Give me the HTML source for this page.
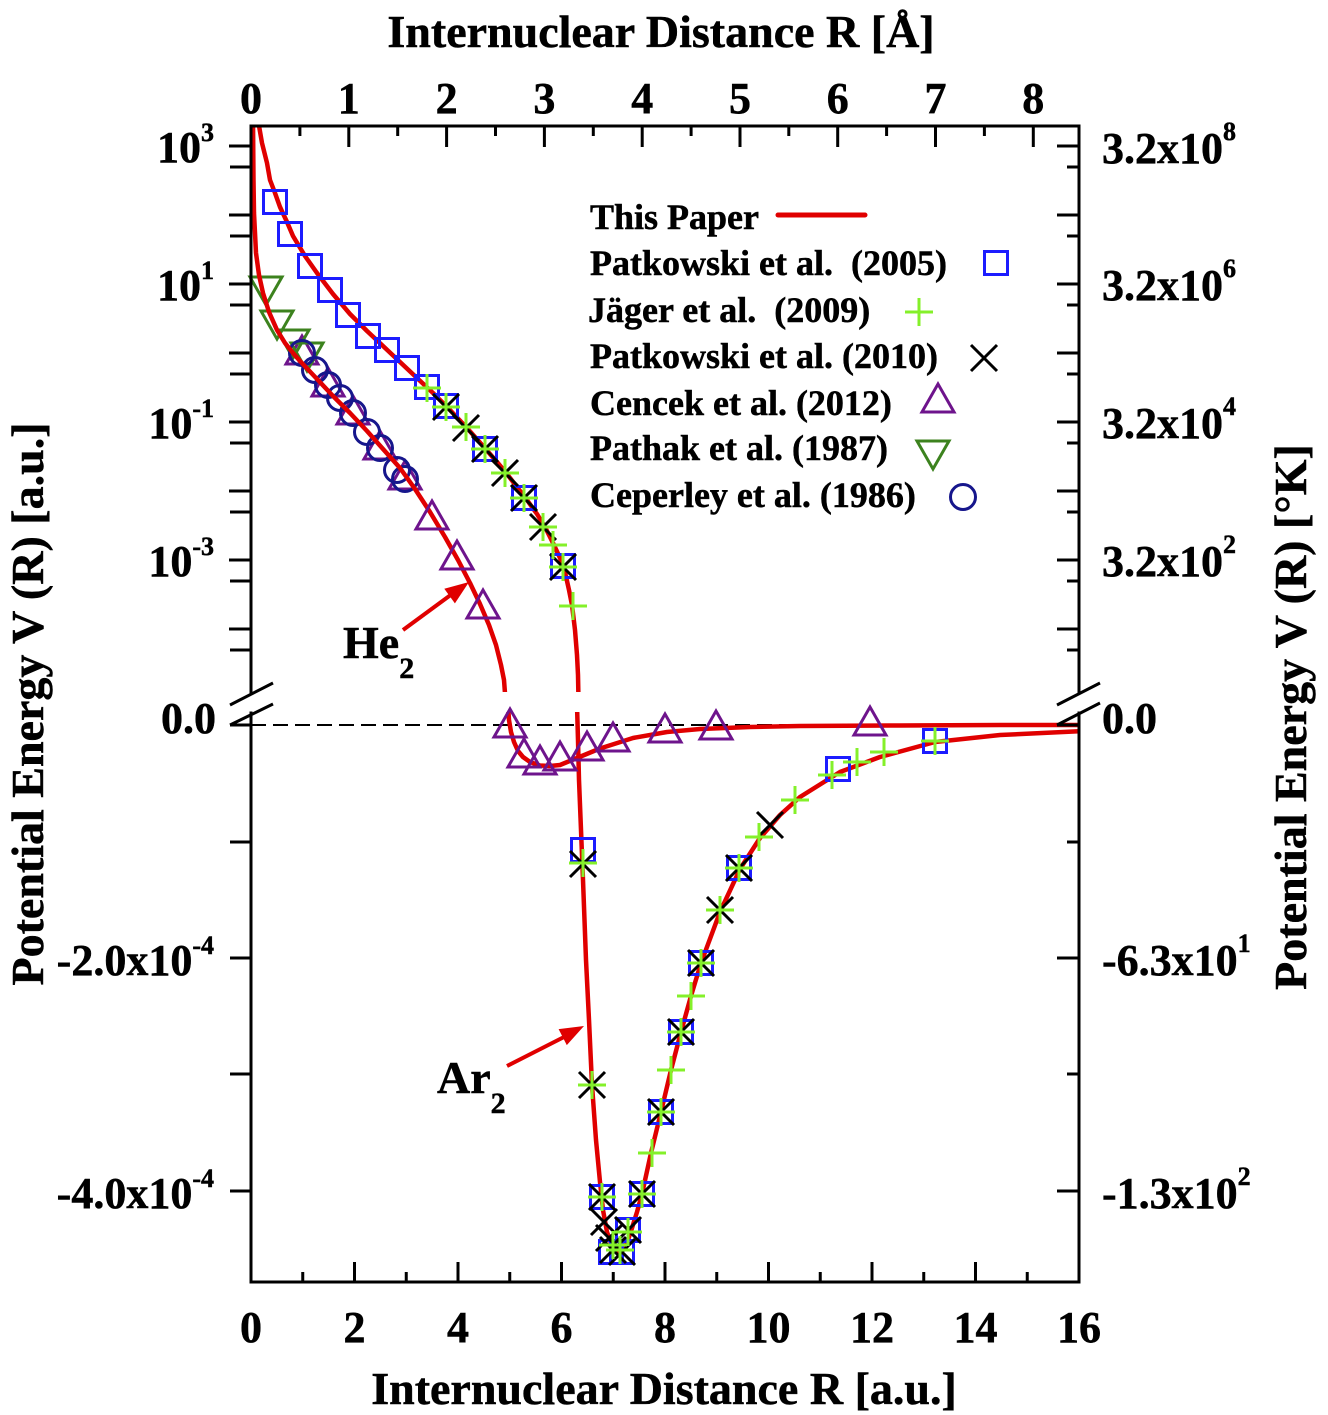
<!DOCTYPE html>
<html><head><meta charset="utf-8"><style>
html,body{margin:0;padding:0;background:#fff;}
svg{display:block;}
text{font-family:"Liberation Serif","DejaVu Serif",serif;font-weight:bold;fill:#000;stroke:#000;stroke-width:0.5;}
</style></head><body>
<svg width="1328" height="1415" viewBox="0 0 1328 1415" xmlns="http://www.w3.org/2000/svg">
<defs>
  <clipPath id="cu"><rect x="251" y="126" width="828" height="566"/></clipPath>
  <clipPath id="cl"><rect x="251" y="712" width="828" height="570"/></clipPath>
  <g id="sq"><rect x="-11.5" y="-11.5" width="23" height="23" fill="none" stroke="#1c1cff" stroke-width="3"/></g>
  <g id="pl"><path d="M-14,0H14M0,-14V14" stroke="#84f02a" stroke-width="3" fill="none"/></g>
  <g id="xx"><path d="M-13,-13L13,13M-13,13L13,-13" stroke="#000" stroke-width="3" fill="none"/></g>
  <g id="tu"><polygon points="0,-17 16,11 -16,11" fill="none" stroke="#6e148c" stroke-width="3"/></g>
  <g id="td"><polygon points="-16,-11 16,-11 0,17" fill="none" stroke="#3c821e" stroke-width="3"/></g>
  <g id="ci"><circle cx="0" cy="0" r="12.5" fill="none" stroke="#16168c" stroke-width="3"/></g>
</defs>
<rect width="1328" height="1415" fill="#fff"/>

<!-- dashed zero line -->
<line x1="251" y1="725" x2="1079" y2="725" stroke="#000" stroke-width="2" stroke-dasharray="15 7"/>

<!-- He2 upper markers (under curve) -->
<use href="#tu" x="302" y="353"/><use href="#tu" x="328" y="385"/><use href="#tu" x="353" y="413"/><use href="#tu" x="380" y="448"/><use href="#tu" x="405" y="478"/>
<use href="#td" x="266" y="288"/><use href="#td" x="277" y="322"/><use href="#td" x="293" y="341"/><use href="#td" x="307" y="354"/>
<use href="#ci" x="302" y="353"/><use href="#ci" x="315" y="370"/><use href="#ci" x="328" y="385"/><use href="#ci" x="340" y="398"/><use href="#ci" x="353" y="413"/><use href="#ci" x="367" y="432"/><use href="#ci" x="380" y="448"/><use href="#ci" x="397" y="470"/><use href="#ci" x="405" y="479"/>

<!-- curves -->
<g fill="none" stroke="#e00000" stroke-width="4.5" stroke-linejoin="round" stroke-linecap="round">
  <g clip-path="url(#cu)">
    <polyline points="253,120 253.5,180 254,213 256,253 259,275 263,293 269,312 277,330 285,343 293,353 300,361 317,379 333,396 350,413 367,431 383,449 400,468 415,489 430,512 445,537 458,560 470,583 480,604 489,625 496,645 501,665 504,680 505.5,700"/>
    <polyline points="258,120 262,143 267,163 270,180 275,193 280,207 287,222 293,236 305,256 317,273 333,294 350,314 367,331 383,346 400,362 417,378 433,393 450,410 467,428 483,446 497,462 507,474 517,487 527,500 537,514 545,527 553,543 560,558 565,572 569,590 572,605 575,630 577,655 578,675 578.5,700"/>
  </g>
  <g clip-path="url(#cl)">
    <polyline points="508,705 509,720 511,732 514,742 518,751 523,757 530,762 540,765.5 550,766 560,765 577,758 600,748.5 633,738 667,732 700,729 750,727 800,726 900,725.5 1000,725 1085,725"/>
    <polyline points="577,705 578,740 579,780 581,830 583,880 586,960 589,1020 592,1085 596,1140 600,1182 603,1210 607,1232 612,1246 617,1252 622,1251 627,1243 632,1228 637,1212 642,1194 651,1153 661,1112 671,1070 681,1032 691,996 701,963 720,912 740,869 760,838 780,815 800,797 840,772 880,757 935,742 1000,735 1085,731"/>
  </g>
</g>

<!-- He2 upper triangles (visible) -->
<use href="#tu" x="432" y="518"/><use href="#tu" x="457" y="558"/><use href="#tu" x="483" y="607"/>

<!-- He2 lower markers -->
<use href="#tu" x="510" y="726"/><use href="#tu" x="524" y="756"/><use href="#tu" x="540" y="763"/><use href="#tu" x="560" y="759"/><use href="#tu" x="587" y="749"/><use href="#tu" x="613" y="740"/><use href="#tu" x="665" y="731"/><use href="#tu" x="716" y="728"/><use href="#tu" x="870" y="724"/>

<!-- Ar2 squares -->
<use href="#sq" x="275" y="202"/><use href="#sq" x="290" y="234"/><use href="#sq" x="310" y="266"/><use href="#sq" x="330" y="290"/><use href="#sq" x="348" y="315"/><use href="#sq" x="368" y="336"/><use href="#sq" x="387" y="350"/><use href="#sq" x="407" y="368"/><use href="#sq" x="427" y="387"/><use href="#sq" x="446" y="406"/><use href="#sq" x="485" y="449"/><use href="#sq" x="524" y="498"/><use href="#sq" x="563" y="566"/>
<use href="#sq" x="583" y="850"/><use href="#sq" x="602" y="1197"/><use href="#sq" x="611" y="1252"/><use href="#sq" x="622" y="1252"/><use href="#sq" x="628" y="1230"/><use href="#sq" x="642" y="1194"/><use href="#sq" x="661" y="1112"/><use href="#sq" x="681" y="1032"/><use href="#sq" x="701" y="963"/><use href="#sq" x="739" y="868"/><use href="#sq" x="838" y="769"/><use href="#sq" x="935" y="741"/>

<!-- Ar2 X -->
<use href="#xx" x="446" y="407"/><use href="#xx" x="466" y="428"/><use href="#xx" x="485" y="449"/><use href="#xx" x="505" y="473"/><use href="#xx" x="524" y="498"/><use href="#xx" x="543" y="527"/><use href="#xx" x="563" y="567"/>
<use href="#xx" x="583" y="864"/><use href="#xx" x="592" y="1085"/><use href="#xx" x="602" y="1197"/><use href="#xx" x="604" y="1222"/><use href="#xx" x="609" y="1238"/><use href="#xx" x="613" y="1250"/><use href="#xx" x="622" y="1252"/><use href="#xx" x="628" y="1230"/><use href="#xx" x="642" y="1194"/><use href="#xx" x="661" y="1112"/><use href="#xx" x="681" y="1032"/><use href="#xx" x="701" y="963"/><use href="#xx" x="720" y="910"/><use href="#xx" x="739" y="868"/><use href="#xx" x="770" y="825"/>

<!-- Ar2 plus -->
<use href="#pl" x="427" y="388"/><use href="#pl" x="446" y="407"/><use href="#pl" x="466" y="427"/><use href="#pl" x="485" y="449"/><use href="#pl" x="505" y="473"/><use href="#pl" x="524" y="498"/><use href="#pl" x="543" y="527"/><use href="#pl" x="553" y="545"/><use href="#pl" x="563" y="567"/><use href="#pl" x="573" y="606"/>
<use href="#pl" x="583" y="863"/><use href="#pl" x="592" y="1085"/><use href="#pl" x="602" y="1197"/><use href="#pl" x="613" y="1245"/><use href="#pl" x="620" y="1250"/><use href="#pl" x="628" y="1232"/><use href="#pl" x="642" y="1194"/><use href="#pl" x="652" y="1153"/><use href="#pl" x="661" y="1112"/><use href="#pl" x="671" y="1070"/><use href="#pl" x="681" y="1032"/><use href="#pl" x="691" y="996"/><use href="#pl" x="701" y="963"/><use href="#pl" x="720" y="910"/><use href="#pl" x="739" y="868"/><use href="#pl" x="759" y="837"/><use href="#pl" x="795" y="800"/><use href="#pl" x="832" y="775"/><use href="#pl" x="857" y="762"/><use href="#pl" x="884" y="752"/><use href="#pl" x="935" y="741"/>

<!-- frame -->
<g stroke="#000" stroke-width="3" fill="none" stroke-linecap="square">
  <path d="M251,126H1079"/>
  <path d="M251,1282H1079"/>
  <path d="M251,126V692M251,713V1282"/>
  <path d="M1079,126V692M1079,713V1282"/>
</g>
<g stroke="#000" stroke-width="3" fill="none">
  <path d="M230,705L273,683M230,725L273,704"/>
  <path d="M1057,705L1100,683M1057,725L1100,703"/>
  <path d="M302.75,1282v-10M354.5,1282v-20M406.25,1282v-10M458,1282v-20M509.75,1282v-10M561.5,1282v-20M613.25,1282v-10M665,1282v-20M716.75,1282v-10M768.5,1282v-20M820.25,1282v-10M872,1282v-20M923.75,1282v-10M975.5,1282v-20M1027.25,1282v-10"/>
  <path d="M299.9,126v10M348.8,126v21M397.7,126v10M446.6,126v21M495.5,126v10M544.4,126v21M593.3,126v10M642.2,126v21M691.1,126v10M740,126v21M788.8,126v10M837.7,126v21M886.6,126v10M935.5,126v21M984.4,126v10M1033.3,126v21"/>
  <path d="M251,146h-22M251,167h-21M251,215h-22M251,236h-21M251,284h-22M251,305h-21M251,353h-22M251,374h-21M251,422h-22M251,443h-21M251,491h-22M251,512h-21M251,560h-22M251,581h-21M251,629h-22M251,650h-21"/>
  <path d="M251,725h-21M251,842h-21M251,958h-21M251,1074h-21M251,1191h-21"/>
  <path d="M1079,146h-22M1079,167h-12M1079,215h-22M1079,236h-12M1079,284h-22M1079,305h-12M1079,353h-22M1079,374h-12M1079,422h-22M1079,443h-12M1079,491h-22M1079,512h-12M1079,560h-22M1079,581h-12M1079,629h-22M1079,650h-12"/>
  <path d="M1079,725h-22M1079,842h-12M1079,958h-22M1079,1074h-12M1079,1191h-22"/>
</g>

<!-- arrows -->
<g stroke="#e00000" stroke-width="4" fill="none"><path d="M403,630L452,594"/><path d="M507,1066L566,1036"/></g>
<polygon points="469,582 454.9,603.4 444.3,588.8" fill="#e00000"/>
<polygon points="584,1026 566.8,1045.1 558.6,1029.1" fill="#e00000"/>

<!-- curve labels -->
<text x="343" y="658" font-size="46">He<tspan font-size="30" dy="20">2</tspan></text>
<text x="437" y="1093" font-size="46">Ar<tspan font-size="30" dy="20">2</tspan></text>

<!-- tick labels -->
<g font-size="44" text-anchor="middle">
  <text x="251" y="113">0</text><text x="348.8" y="113">1</text><text x="446.6" y="113">2</text><text x="544.4" y="113">3</text><text x="642.2" y="113">4</text><text x="740" y="113">5</text><text x="837.7" y="113">6</text><text x="935.5" y="113">7</text><text x="1033.3" y="113">8</text>
  <text x="251" y="1342">0</text><text x="354.5" y="1342">2</text><text x="458" y="1342">4</text><text x="561.5" y="1342">6</text><text x="665" y="1342">8</text><text x="768.5" y="1342">10</text><text x="872" y="1342">12</text><text x="975.5" y="1342">14</text><text x="1079" y="1342">16</text>
</g>
<g font-size="44" text-anchor="end">
  <text x="214" y="162">10<tspan font-size="26" dy="-21">3</tspan></text>
  <text x="214" y="300">10<tspan font-size="26" dy="-21">1</tspan></text>
  <text x="214" y="438">10<tspan font-size="26" dy="-21">-1</tspan></text>
  <text x="214" y="576">10<tspan font-size="26" dy="-21">-3</tspan></text>
  <text x="216" y="733">0.0</text>
  <text x="214" y="975">-2.0x10<tspan font-size="26" dy="-21">-4</tspan></text>
  <text x="214" y="1208">-4.0x10<tspan font-size="26" dy="-21">-4</tspan></text>
</g>
<g font-size="44">
  <text x="1102" y="163">3.2x10<tspan font-size="26" dy="-23">8</tspan></text>
  <text x="1102" y="300">3.2x10<tspan font-size="26" dy="-23">6</tspan></text>
  <text x="1102" y="438">3.2x10<tspan font-size="26" dy="-23">4</tspan></text>
  <text x="1102" y="576">3.2x10<tspan font-size="26" dy="-23">2</tspan></text>
  <text x="1102" y="733">0.0</text>
  <text x="1102" y="975">-6.3x10<tspan font-size="26" dy="-23">1</tspan></text>
  <text x="1102" y="1208">-1.3x10<tspan font-size="26" dy="-23">2</tspan></text>
</g>

<!-- axis titles -->
<g font-size="46" text-anchor="middle">
  <text x="661" y="47">Internuclear Distance R [Å]</text>
  <text x="664" y="1404">Internuclear Distance R [a.u.]</text>
  <text transform="translate(43,704) rotate(-90)">Potential Energy V (R) [a.u.]</text>
  <text transform="translate(1306,717) rotate(-90)">Potential Energy V (R) [°K]</text>
</g>

<!-- legend -->
<g font-size="36" style="white-space:pre">
  <text x="590" y="229">This Paper</text>
  <text x="590" y="275" xml:space="preserve">Patkowski et al.  (2005)</text>
  <text x="588" y="322" xml:space="preserve">Jäger et al.  (2009)</text>
  <text x="590" y="368">Patkowski et al. (2010)</text>
  <text x="590" y="415">Cencek et al. (2012)</text>
  <text x="590" y="460">Pathak et al. (1987)</text>
  <text x="590" y="507">Ceperley et al. (1986)</text>
</g>
<line x1="778" y1="215" x2="865" y2="215" stroke="#e00000" stroke-width="5" stroke-linecap="round"/>
<use href="#sq" x="996" y="263"/>
<use href="#pl" x="919" y="312"/>
<use href="#xx" x="984" y="358"/>
<use href="#tu" x="938" y="401"/>
<use href="#td" x="933" y="452"/>
<use href="#ci" x="963" y="497"/>
</svg>
</body></html>
